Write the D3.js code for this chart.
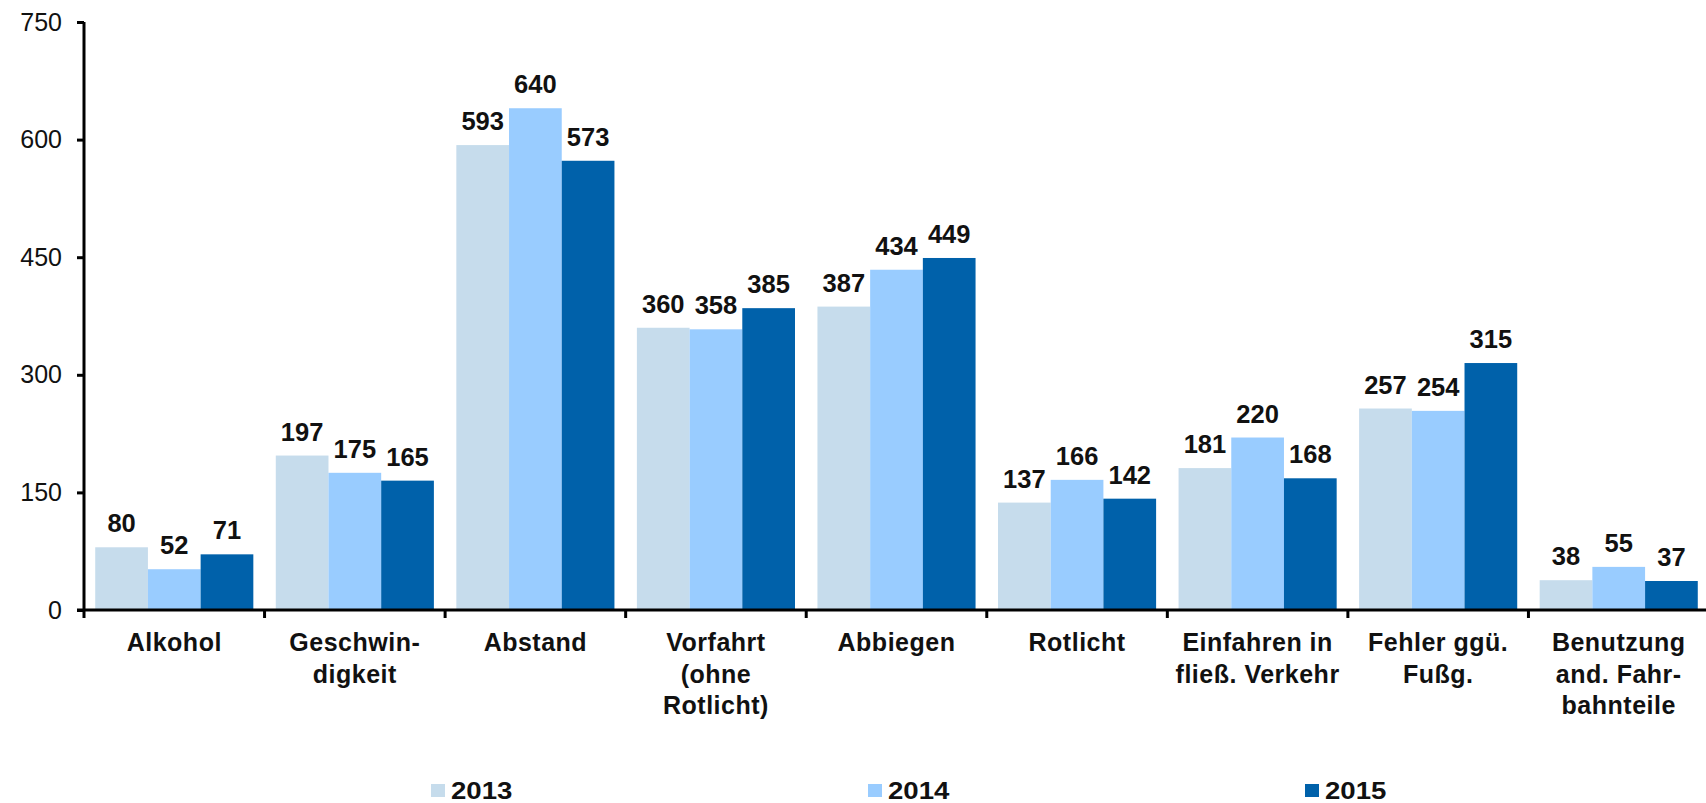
<!DOCTYPE html>
<html lang="de">
    <head>
        <meta charset="utf-8">
        <title>Unfallursachen 2013-2015</title>
        <script src="https://d3js.org/d3.v7.min.js"></script>
        <style type="text/css">
            body { margin: 0; background: #fff; }
            svg { display: block; font-family: Arial, "Liberation Sans", sans-serif; }
        </style>
    </head>
    <body>
        <script>
            // data
            var categories = ["Alkohol", "Geschwin-\ndigkeit", "Abstand", "Vorfahrt\n(ohne\nRotlicht)", "Abbiegen",
                              "Rotlicht", "Einfahren in\nfließ. Verkehr", "Fehler ggü.\nFußg.", "Benutzung\nand. Fahr-\nbahnteile"];
            var years = ["2013", "2014", "2015"];
            var values2013 = [80, 197, 593, 360, 387, 137, 181, 257, 38];
            var values2014 = [52, 175, 640, 358, 434, 166, 220, 254, 55];
            var values2015 = [71, 165, 573, 385, 449, 142, 168, 315, 37];
            var yTicks = [0, 150, 300, 450, 600, 750];
            var colors = ["#c6dcec", "#99ccff", "#0061aa"];

            // configuration (note: "top" is reserved on window, so use plot* names)
            var width = 1706, height = 803;
            var plotLeft = 84, plotRight = 1709, plotTop = 22, plotBottom = 610;

            var series = [values2013, values2014, values2015];
            var rows = [];
            categories.forEach(function(c, i) {
                years.forEach(function(y, j) {
                    rows.push({ cat: c, year: y, value: series[j][i] });
                });
            });

            var svg = d3.select("body").append("svg")
                .attr("width", width)
                .attr("height", height);

            var x = d3.scaleBand().domain(categories).range([plotLeft, plotRight]).padding(0);
            var xInner = d3.scaleBand().domain(years).range([0, x.bandwidth()])
                .paddingInner(0).paddingOuter(0.213);
            var y = d3.scaleLinear().domain([0, 750]).range([plotBottom, plotTop]);
            var color = d3.scaleOrdinal().domain(years).range(colors);

            // bars
            svg.selectAll("rect.bar").data(rows).enter().append("rect")
                .attr("class", "bar")
                .attr("x", function(d) { return x(d.cat) + xInner(d.year); })
                .attr("y", function(d) { return y(d.value); })
                .attr("width", xInner.bandwidth())
                .attr("height", function(d) { return plotBottom - y(d.value); })
                .attr("fill", function(d) { return color(d.year); });

            // value labels
            svg.selectAll("text.val").data(rows).enter().append("text")
                .attr("class", "val")
                .attr("x", function(d) { return x(d.cat) + xInner(d.year) + xInner.bandwidth() / 2; })
                .attr("y", function(d) { return y(d.value) - 15; })
                .attr("text-anchor", "middle")
                .style("font-size", "25.5px")
                .style("font-weight", "bold")
                .attr("fill", "#111")
                .text(function(d) { return d.value; });

            // y axis
            var yAxis = svg.append("g")
                .attr("transform", "translate(" + plotLeft + ",0)")
                .call(d3.axisLeft(y).tickValues(yTicks).tickSize(7).tickPadding(15));
            yAxis.select(".domain").attr("stroke", "#000").attr("stroke-width", 3)
                .attr("d", "M0," + plotTop + "V" + plotBottom);
            yAxis.selectAll(".tick line").attr("stroke", "#000").attr("stroke-width", 3);
            yAxis.selectAll(".tick text")
                .style("font-size", "25px")
                .style("font-family", "Arial, 'Liberation Sans', sans-serif")
                .attr("fill", "#111");

            // x axis
            svg.append("line")
                .attr("x1", plotLeft - 7).attr("x2", width)
                .attr("y1", plotBottom).attr("y2", plotBottom)
                .attr("stroke", "#000").attr("stroke-width", 3);

            svg.selectAll("line.xtick").data(categories).enter().append("line")
                .attr("class", "xtick")
                .attr("x1", function(d) { return x(d); })
                .attr("x2", function(d) { return x(d); })
                .attr("y1", plotBottom).attr("y2", plotBottom + 8)
                .attr("stroke", "#000").attr("stroke-width", 3);

            var catLabels = svg.selectAll("text.cat").data(categories).enter().append("text")
                .attr("class", "cat")
                .attr("text-anchor", "middle")
                .style("font-size", "25px")
                .style("font-weight", "bold")
                .style("letter-spacing", "0.5px")
                .attr("fill", "#111");

            catLabels.selectAll("tspan")
                .data(function(d) { return d.split("\n").map(function(t) { return { t: t, c: d }; }); })
                .enter().append("tspan")
                .attr("x", function(d) { return x(d.c) + x.bandwidth() / 2; })
                .attr("y", function(d, i) { return 651 + i * 31.5; })
                .text(function(d) { return d.t; });

            // legend
            var legend = svg.selectAll(".legend").data(years).enter().append("g")
                .attr("class", "legend")
                .attr("transform", function(d, i) { return "translate(" + (431 + i * 437) + ",784)"; });

            legend.append("rect")
                .attr("width", 14)
                .attr("height", 13)
                .attr("fill", function(d) { return color(d); });

            legend.append("text")
                .attr("transform", "translate(20,15) scale(1.2,1)")
                .style("font-size", "23px")
                .style("font-weight", "bold")
                .attr("fill", "#111")
                .text(function(d) { return d; });
        </script>
    </body>
</html>
